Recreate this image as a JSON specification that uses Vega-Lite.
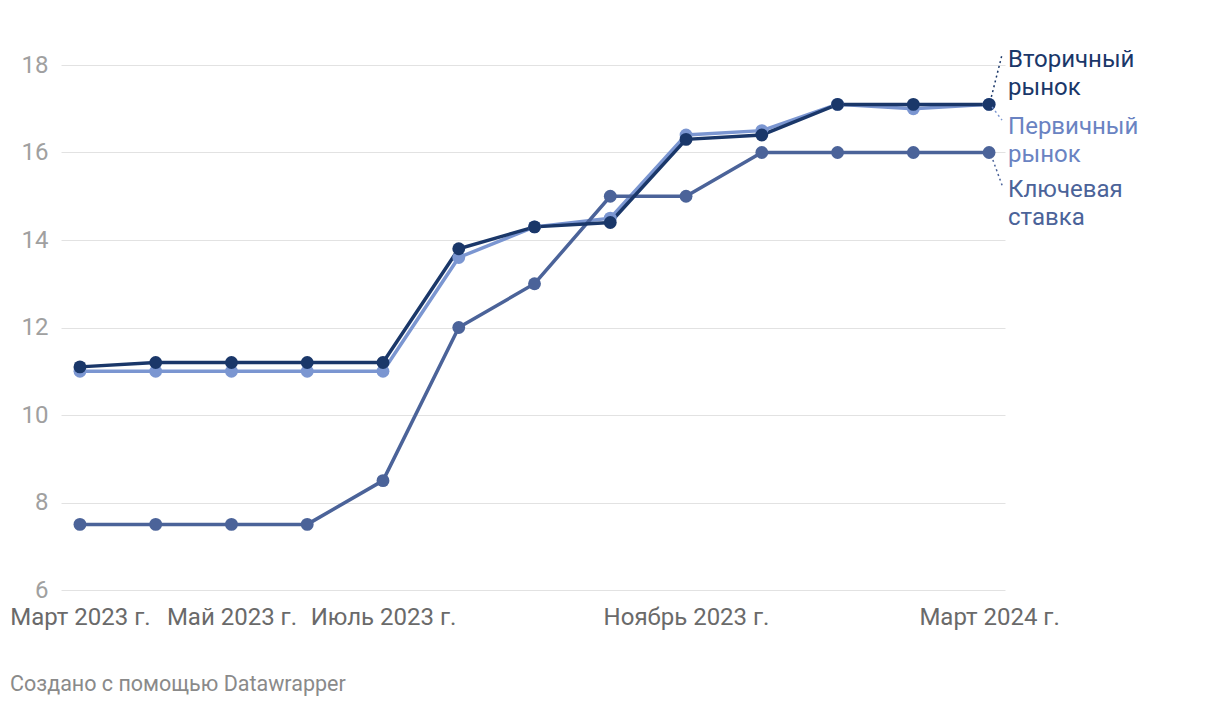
{
  "$schema": "https://vega.github.io/schema/vega-lite/v6.json",
  "autosize": "none",
  "width": 944,
  "height": 525,
  "padding": {"left": 61, "top": 65, "right": 215, "bottom": 116},
  "background": "white",
  "config": {
    "font": "Roboto",
    "view": {"stroke": null},
    "title": {"font": "Roboto"}
  },
  "title": {
    "text": "Создано с помощью Datawrapper",
    "orient": "bottom",
    "anchor": "start",
    "frame": "group",
    "dx": -51,
    "offset": 45,
    "fontSize": 21.5,
    "fontWeight": "normal",
    "color": "#8a8a8a"
  },
  "resolve": {"scale": {"color": "independent"}},
  "datasets": {
    "series": [
      {"i": 0, "s": "Первичный рынок", "v": 11.0},
      {"i": 1, "s": "Первичный рынок", "v": 11.0},
      {"i": 2, "s": "Первичный рынок", "v": 11.0},
      {"i": 3, "s": "Первичный рынок", "v": 11.0},
      {"i": 4, "s": "Первичный рынок", "v": 11.0},
      {"i": 5, "s": "Первичный рынок", "v": 13.6},
      {"i": 6, "s": "Первичный рынок", "v": 14.3},
      {"i": 7, "s": "Первичный рынок", "v": 14.5},
      {"i": 8, "s": "Первичный рынок", "v": 16.4},
      {"i": 9, "s": "Первичный рынок", "v": 16.5},
      {"i": 10, "s": "Первичный рынок", "v": 17.1},
      {"i": 11, "s": "Первичный рынок", "v": 17.0},
      {"i": 12, "s": "Первичный рынок", "v": 17.1},
      {"i": 0, "s": "Ключевая ставка", "v": 7.5},
      {"i": 1, "s": "Ключевая ставка", "v": 7.5},
      {"i": 2, "s": "Ключевая ставка", "v": 7.5},
      {"i": 3, "s": "Ключевая ставка", "v": 7.5},
      {"i": 4, "s": "Ключевая ставка", "v": 8.5},
      {"i": 5, "s": "Ключевая ставка", "v": 12.0},
      {"i": 6, "s": "Ключевая ставка", "v": 13.0},
      {"i": 7, "s": "Ключевая ставка", "v": 15.0},
      {"i": 8, "s": "Ключевая ставка", "v": 15.0},
      {"i": 9, "s": "Ключевая ставка", "v": 16.0},
      {"i": 10, "s": "Ключевая ставка", "v": 16.0},
      {"i": 11, "s": "Ключевая ставка", "v": 16.0},
      {"i": 12, "s": "Ключевая ставка", "v": 16.0},
      {"i": 0, "s": "Вторичный рынок", "v": 11.1},
      {"i": 1, "s": "Вторичный рынок", "v": 11.2},
      {"i": 2, "s": "Вторичный рынок", "v": 11.2},
      {"i": 3, "s": "Вторичный рынок", "v": 11.2},
      {"i": 4, "s": "Вторичный рынок", "v": 11.2},
      {"i": 5, "s": "Вторичный рынок", "v": 13.8},
      {"i": 6, "s": "Вторичный рынок", "v": 14.3},
      {"i": 7, "s": "Вторичный рынок", "v": 14.4},
      {"i": 8, "s": "Вторичный рынок", "v": 16.3},
      {"i": 9, "s": "Вторичный рынок", "v": 16.4},
      {"i": 10, "s": "Вторичный рынок", "v": 17.1},
      {"i": 11, "s": "Вторичный рынок", "v": 17.1},
      {"i": 12, "s": "Вторичный рынок", "v": 17.1}
    ],
    "labels": [
      {"s": "Вторичный рынок", "txt": "Вторичный|рынок", "x": 12.25, "y": 18.11, "x1": 12.03, "y1": 17.27, "x2": 12.17, "y2": 18.23},
      {"s": "Первичный рынок", "txt": "Первичный|рынок", "x": 12.25, "y": 16.58, "x1": 12.04, "y1": 17.04, "x2": 12.17, "y2": 16.74},
      {"s": "Ключевая ставка", "txt": "Ключевая|ставка", "x": 12.25, "y": 15.14, "x1": 12.05, "y1": 15.83, "x2": 12.18, "y2": 15.21}
    ]
  },
  "layer": [
    {
      "layer": [
        {
          "data": {"name": "series"},
          "mark": {"type": "line", "strokeWidth": 3.5, "interpolate": "linear"},
          "encoding": {
            "x": {
              "field": "i", "type": "quantitative",
              "scale": {"domain": [-0.25, 12.21], "nice": false, "zero": false},
              "axis": {
                "values": [0, 2, 4, 8, 12],
                "labelExpr": "datum.value == 0 ? 'Март 2023 г.' : datum.value == 2 ? 'Май 2023 г.' : datum.value == 4 ? 'Июль 2023 г.' : datum.value == 8 ? 'Ноябрь 2023 г.' : 'Март 2024 г.'",
                "title": null, "grid": false, "ticks": false, "domain": false,
                "labelFontSize": 24, "labelColor": "#6a6a6a", "labelPadding": 15,
                "labelFont": "Roboto", "labelFlush": false, "labelOverlap": false
              }
            },
            "y": {
              "field": "v", "type": "quantitative",
              "scale": {"domain": [6, 18], "nice": false, "zero": false},
              "axis": {
                "values": [6, 8, 10, 12, 14, 16, 18],
                "title": null, "ticks": false, "domain": false,
                "gridColor": "#e2e2e2", "gridWidth": 1,
                "labelFontSize": 24, "labelColor": "#a0a0a0", "labelPadding": 13,
                "labelFont": "Roboto"
              }
            },
            "color": {
              "field": "s", "type": "nominal",
              "scale": {"domain": ["Первичный рынок", "Ключевая ставка", "Вторичный рынок"], "range": ["#7b96d1", "#4b6399", "#1a3769"]},
              "legend": null
            },
            "order": {"field": "i", "type": "quantitative"},
            "detail": {"field": "s"}
          }
        },
        {
          "data": {"name": "series"},
          "mark": {"type": "point", "filled": true, "opacity": 1, "size": 165, "shape": "circle"},
          "encoding": {
            "x": {"field": "i", "type": "quantitative"},
            "y": {"field": "v", "type": "quantitative"},
            "color": {"field": "s", "type": "nominal", "legend": null}
          }
        },
        {
          "data": {"name": "labels"},
          "mark": {"type": "rule", "strokeWidth": 1.5, "strokeDash": [2, 3]},
          "encoding": {
            "x": {"field": "x1", "type": "quantitative"},
            "y": {"field": "y1", "type": "quantitative"},
            "x2": {"field": "x2"},
            "y2": {"field": "y2"},
            "color": {"field": "s", "type": "nominal", "legend": null}
          }
        }
      ]
    },
    {
      "data": {"name": "labels"},
      "mark": {"type": "text", "align": "left", "baseline": "middle", "fontSize": 24, "lineBreak": "|", "lineHeight": 28, "font": "Roboto"},
      "encoding": {
        "x": {"field": "x", "type": "quantitative"},
        "y": {"field": "y", "type": "quantitative"},
        "text": {"field": "txt"},
        "color": {
          "field": "s", "type": "nominal", "legend": null,
          "scale": {"domain": ["Первичный рынок", "Ключевая ставка", "Вторичный рынок"], "range": ["#6a83c2", "#4b6399", "#1a3769"]}
        }
      }
    }
  ]
}
